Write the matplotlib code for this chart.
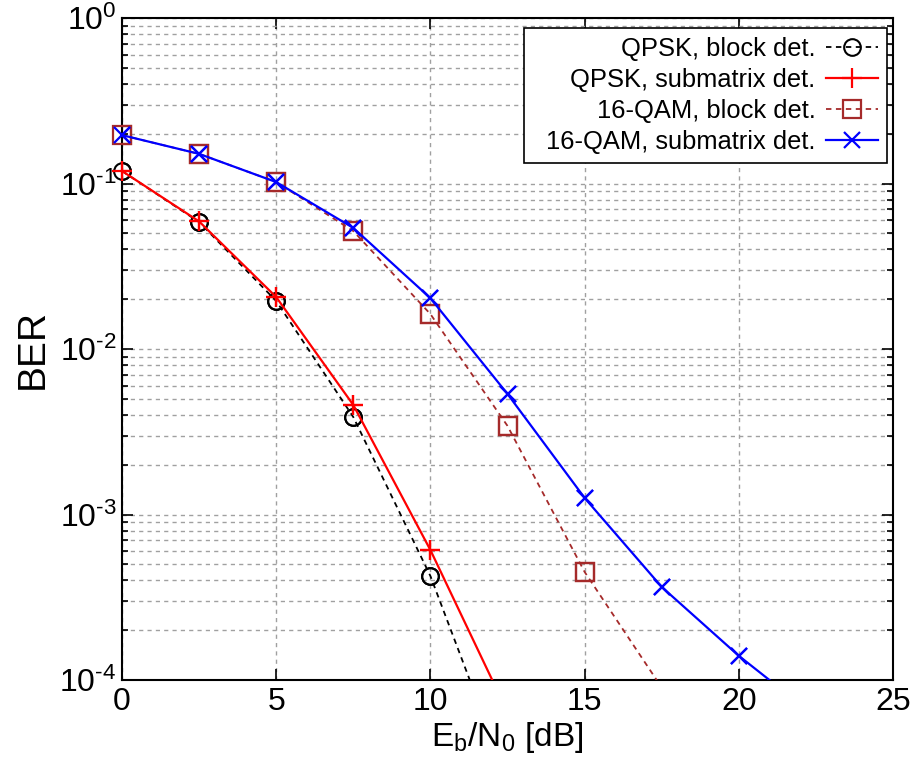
import matplotlib
matplotlib.use("Agg")
import matplotlib.pyplot as plt
from matplotlib.patches import Rectangle
from matplotlib.ticker import LogLocator, NullFormatter, FixedLocator, FixedFormatter

plt.rcParams['font.family'] = ['Liberation Sans', 'DejaVu Sans']
plt.rcParams['mathtext.fontset'] = 'custom'
plt.rcParams['mathtext.rm'] = 'Liberation Sans'
plt.rcParams['mathtext.it'] = 'Liberation Sans'

# Data
snr_qpsk = [0, 2.5, 5, 7.5, 10, 12.5]
ber_qpsk_block = [0.119, 0.0585, 0.0195, 0.00388, 4.25e-4, 2.5e-5]
ber_qpsk_sub = [0.119, 0.0590, 0.0206, 0.00459, 6.1e-4, 6.4e-5]

snr_qam_block = [0, 2.5, 5, 7.5, 10, 12.5, 15, 17.5]
ber_qam_block = [0.196, 0.151, 0.102, 0.0516, 0.01626, 0.00343, 4.5e-4, 9.0e-5]

snr_qam_sub = [0, 2.5, 5, 7.5, 10, 12.5, 15, 17.5, 20, 22.5]
ber_qam_sub = [0.196, 0.151, 0.102, 0.0539, 0.0203, 0.00535, 0.00126, 3.65e-4, 1.40e-4, 6.0e-5]

labels = ['QPSK, block det.', 'QPSK, submatrix det.',
          '16-QAM, block det.', '16-QAM, submatrix det.']
xticks = [0, 5, 10, 15, 20, 25]
yticks = [1e-4, 1e-3, 1e-2, 1e-1, 1]
ytick_labels = [r'$\mathregular{10^{\text{-}4}}$', r'$\mathregular{10^{\text{-}3}}$',
                r'$\mathregular{10^{\text{-}2}}$', r'$\mathregular{10^{\text{-}1}}$',
                r'$\mathregular{10^{0}}$']
YMIN, YMAX = 1e-4, 1

W, H = 922, 760
fig = plt.figure(figsize=(W / 100, H / 100), dpi=100)
fig.subplots_adjust(left=122/W, right=893/W, top=1-18/H, bottom=1-680/H)
ax = fig.add_subplot(111)
ax.set_yscale('log')
ax.set_xlim(0, 25)
ax.set_ylim(YMIN, YMAX)


def visible(ys):
    return [i for i, v in enumerate(ys) if v >= YMIN]


series = [
    (snr_qpsk, ber_qpsk_block, dict(color='black', linestyle=(0, (3, 2.5)), lw=1.3,
                                    marker='o', markersize=12, markerfacecolor='none',
                                    markeredgewidth=1.5), 3),
    (snr_qpsk, ber_qpsk_sub, dict(color='red', linestyle='-', lw=1.6,
                                  marker='+', markersize=14, markeredgewidth=1.6), 4),
    (snr_qam_block, ber_qam_block, dict(color='#a52a2a', linestyle=(0, (3, 2.5)), lw=1.3,
                                        marker='s', markersize=13, markerfacecolor='none',
                                        markeredgewidth=1.6), 3),
    (snr_qam_sub, ber_qam_sub, dict(color='blue', linestyle='-', lw=1.6,
                                    marker='x', markersize=12, markeredgewidth=1.6), 4),
]
for (xs, ys, st, z), lab in zip(series, labels):
    ax.plot(xs, ys, markevery=visible(ys), label=lab, zorder=z, **st)
    idx = visible(ys)
    mst = dict(st)
    mst['linestyle'] = 'none'
    ax.plot([xs[i] for i in idx], [ys[i] for i in idx], zorder=z, clip_on=False, **mst)

ax.xaxis.set_major_locator(FixedLocator(xticks))
ax.yaxis.set_major_locator(FixedLocator(yticks))
ax.yaxis.set_major_formatter(FixedFormatter(ytick_labels))
ax.yaxis.set_minor_locator(LogLocator(base=10, subs=range(2, 10), numticks=20))
ax.yaxis.set_minor_formatter(NullFormatter())

ax.tick_params(which='both', direction='in', top=True, right=True, labelsize=23, width=1.2)
ax.tick_params(which='major', length=8)
ax.tick_params(which='minor', length=4)
ax.tick_params(axis='x', pad=5)
ax.tick_params(axis='y', pad=4)

ax.grid(True, which='major', axis='x', color='#a0a0a0', linestyle=(0, (3, 3)), lw=1)
ax.grid(True, which='both', axis='y', color='#a0a0a0', linestyle=(0, (3, 3)), lw=1)
ax.set_axisbelow(True)
for s in ax.spines.values():
    s.set_linewidth(1.5)

ax.set_xlabel(r'$\mathregular{E_b/N_0}$ [dB]', fontsize=24, labelpad=2)
ax.set_ylabel('BER', fontsize=28, labelpad=6)

# legend frame (wider on the left, like the reference)
frame = Rectangle((524 / W, 1 - 163 / H), (887 - 524) / W, (163 - 28) / H,
                  transform=fig.transFigure, facecolor='white', edgecolor='black',
                  lw=1.2, zorder=5)
ax.add_artist(frame)
frame.set_clip_on(False)

leg = ax.legend(loc='upper right', markerfirst=False, fontsize=18.4, frameon=False,
                handlelength=2.05, borderaxespad=0.0, labelspacing=0.28,
                handletextpad=0.4, borderpad=0.35,
                bbox_to_anchor=(887/W, 1-28/H), bbox_transform=fig.transFigure)
leg.set_zorder(6)
for t in leg.get_texts():
    t.set_ha('right')
leg._legend_box.align = 'right'

fig.savefig('out.png', dpi=100)
